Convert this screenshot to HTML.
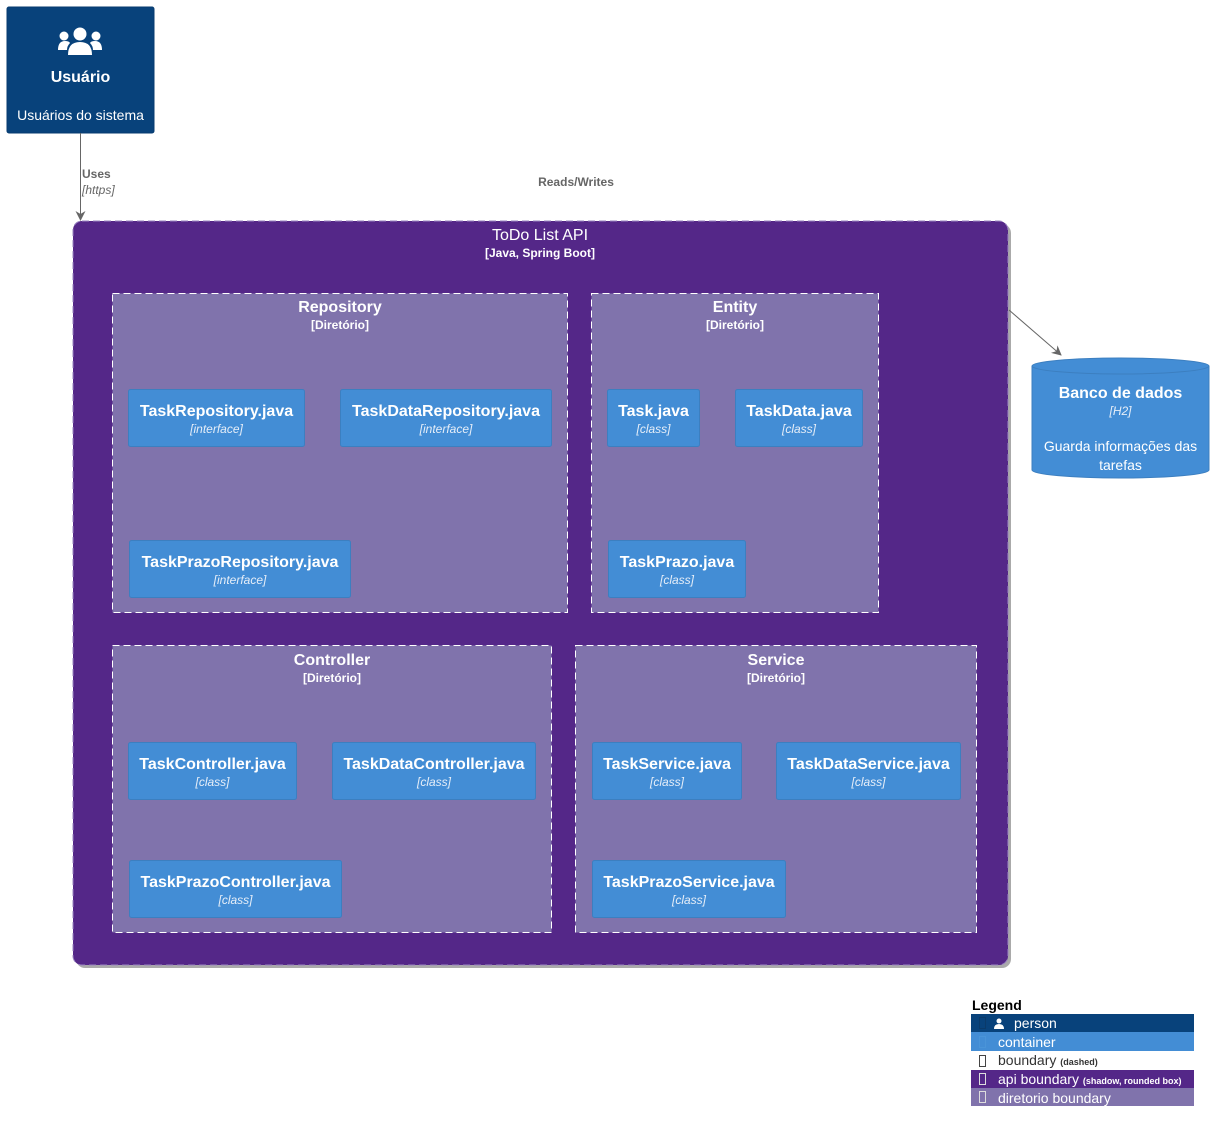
<!DOCTYPE html>
<html><head><meta charset="utf-8"><style>
html,body{margin:0;padding:0;background:#fff;}
svg{display:block;font-family:"Liberation Sans",sans-serif;}
</style></head><body>
<svg width="1224" height="1132" viewBox="0 0 1224 1132" xmlns="http://www.w3.org/2000/svg">
<defs>
<marker id="ah" markerWidth="10" markerHeight="10" refX="9" refY="5" orient="auto" markerUnits="userSpaceOnUse">
<path d="M0,0 L10,5 L0,10 L3,5 z" fill="#666"/></marker>
</defs>
<!-- person -->
<rect x="7" y="7" width="147" height="126" rx="2" fill="#08427B" stroke="#073B6F"/>
<g fill="#fff">
<circle cx="80" cy="34" r="6.5"/><circle cx="64" cy="36" r="4.5"/><circle cx="96" cy="36" r="4.5"/>
<path d="M68,55 q0,-13 12,-13 q12,0 12,13 z"/>
<path d="M58,50 q0,-9 7,-9 q4,0 5,2 q-3,3 -3,7 z"/>
<path d="M102,50 q0,-9 -7,-9 q-4,0 -5,2 q3,3 3,7 z"/>
</g>
<text x="80.5" y="82" fill="#fff" font-size="16" font-weight="bold" text-anchor="middle">Usuário</text>
<text x="80.5" y="120" fill="#fff" font-size="14" text-anchor="middle">Usuários do sistema</text>
<!-- uses arrow -->
<line x1="80.5" y1="133" x2="80.5" y2="220" stroke="#666" stroke-width="1" marker-end="url(#ah)"/>
<text x="82" y="178" fill="#666" font-size="12" font-weight="bold">Uses</text>
<text x="82" y="194" fill="#666" font-size="12" font-style="italic">[https]</text>
<text x="576" y="186" fill="#666" font-size="12" font-weight="bold" text-anchor="middle">Reads/Writes</text>
<!-- api boundary -->
<rect x="76" y="224" width="935" height="744" rx="9" fill="#aaa"/>
<rect x="73" y="221" width="935" height="744" rx="9" fill="#542788" stroke="#9a84c0" stroke-dasharray="7,4"/>
<text x="540" y="240" fill="#fff" font-size="16" text-anchor="middle">ToDo List API</text>
<text x="540" y="257" fill="#fff" font-size="12" font-weight="bold" text-anchor="middle">[Java, Spring Boot]</text>
<!-- dirs -->
<g fill="#8073AC" stroke="#fff" stroke-dasharray="7,4">
<rect x="112.5" y="293.5" width="455" height="319"/>
<rect x="591.5" y="293.5" width="287" height="319"/>
<rect x="112.5" y="645.5" width="439" height="287"/>
<rect x="575.5" y="645.5" width="401" height="287"/>
</g>
<g fill="#fff" text-anchor="middle">
<text x="340" y="312" font-size="16" font-weight="bold">Repository</text>
<text x="340" y="329" font-size="12" font-weight="bold">[Diretório]</text>
<text x="735" y="312" font-size="16" font-weight="bold">Entity</text>
<text x="735" y="329" font-size="12" font-weight="bold">[Diretório]</text>
<text x="332" y="665" font-size="16" font-weight="bold">Controller</text>
<text x="332" y="682" font-size="12" font-weight="bold">[Diretório]</text>
<text x="776" y="665" font-size="16" font-weight="bold">Service</text>
<text x="776" y="682" font-size="12" font-weight="bold">[Diretório]</text>
</g>
<!-- containers -->
<g fill="#438DD5" stroke="#3C7FC0">
<rect x="128.5" y="389.5" width="176" height="57" rx="2"/>
<rect x="340.5" y="389.5" width="211" height="57" rx="2"/>
<rect x="129.5" y="540.5" width="221" height="57" rx="2"/>
<rect x="607.5" y="389.5" width="92" height="57" rx="2"/>
<rect x="735.5" y="389.5" width="127" height="57" rx="2"/>
<rect x="608.5" y="540.5" width="137" height="57" rx="2"/>
<rect x="128.5" y="742.5" width="168" height="57" rx="2"/>
<rect x="332.5" y="742.5" width="203" height="57" rx="2"/>
<rect x="129.5" y="860.5" width="212" height="57" rx="2"/>
<rect x="592.5" y="742.5" width="149" height="57" rx="2"/>
<rect x="776.5" y="742.5" width="184" height="57" rx="2"/>
<rect x="592.5" y="860.5" width="193" height="57" rx="2"/>
</g>
<g fill="#fff" text-anchor="middle">
<g font-size="16" font-weight="bold">
<text x="216.5" y="416">TaskRepository.java</text>
<text x="446" y="416">TaskDataRepository.java</text>
<text x="240" y="567">TaskPrazoRepository.java</text>
<text x="653.5" y="416">Task.java</text>
<text x="799" y="416">TaskData.java</text>
<text x="677" y="567">TaskPrazo.java</text>
<text x="212.5" y="769">TaskController.java</text>
<text x="434" y="769">TaskDataController.java</text>
<text x="235.5" y="887">TaskPrazoController.java</text>
<text x="667" y="769">TaskService.java</text>
<text x="868.5" y="769">TaskDataService.java</text>
<text x="689" y="887">TaskPrazoService.java</text>
</g>
<g font-size="12" font-style="italic" fill="#e6eef8">
<text x="216.5" y="433">[interface]</text>
<text x="446" y="433">[interface]</text>
<text x="240" y="584">[interface]</text>
<text x="653.5" y="433">[class]</text>
<text x="799" y="433">[class]</text>
<text x="677" y="584">[class]</text>
<text x="212.5" y="786">[class]</text>
<text x="434" y="786">[class]</text>
<text x="235.5" y="904">[class]</text>
<text x="667" y="786">[class]</text>
<text x="868.5" y="786">[class]</text>
<text x="689" y="904">[class]</text>
</g>
</g>
<!-- db arrow -->
<line x1="1009" y1="310" x2="1061" y2="355" stroke="#666" marker-end="url(#ah)"/>
<!-- db cylinder -->
<path d="M1032,366 v104 a88.5,8 0 0 0 177,0 v-104 a88.5,8 0 0 0 -177,0 z" fill="#438DD5" stroke="#3C7FC0"/>
<path d="M1032,366 a88.5,8 0 0 0 177,0" fill="none" stroke="#3C7FC0"/>
<text x="1120.5" y="398" fill="#fff" font-size="16" font-weight="bold" text-anchor="middle">Banco de dados</text>
<text x="1120.5" y="415" fill="#e6eef8" font-size="12" font-style="italic" text-anchor="middle">[H2]</text>
<text x="1120.5" y="451" fill="#fff" font-size="14" text-anchor="middle">Guarda informações das</text>
<text x="1120.5" y="470" fill="#fff" font-size="14" text-anchor="middle">tarefas</text>
<!-- legend -->
<text x="972" y="1010" font-size="14" font-weight="bold" fill="#000">Legend</text>
<rect x="971" y="1014" width="223" height="18" fill="#08427B"/>
<rect x="971" y="1032" width="223" height="19" fill="#438DD5"/>
<rect x="971" y="1070" width="223" height="18" fill="#542788"/>
<rect x="971" y="1088" width="223" height="18" fill="#8073AC"/>
<g fill="none" stroke-width="1">
<rect x="979.5" y="1017.5" width="6" height="11" stroke="#0a3a6a"/>
<rect x="979.5" y="1036.5" width="6" height="11" stroke="#4a94d8"/>
<rect x="979.5" y="1055.5" width="6" height="11" stroke="#444"/>
<rect x="979.5" y="1073.5" width="6" height="11" stroke="#ddd"/>
<rect x="979.5" y="1091.5" width="6" height="11" stroke="#ddd"/>
</g>
<circle cx="999" cy="1021" r="2.5" fill="#fff"/><path d="M994,1029 q0,-5 5,-5 q5,0 5,5 z" fill="#fff"/>
<g font-size="14">
<text x="1014" y="1028" fill="#fff">person</text>
<text x="998" y="1047" fill="#fff">container</text>
<text x="998" y="1065" fill="#333">boundary <tspan font-size="9" font-weight="bold">(dashed)</tspan></text>
<text x="998" y="1084" fill="#fff">api boundary <tspan font-size="9" font-weight="bold">(shadow, rounded box)</tspan></text>
<text x="998" y="1103" fill="#fff">diretorio boundary</text>
</g>
</svg>
</body></html>
